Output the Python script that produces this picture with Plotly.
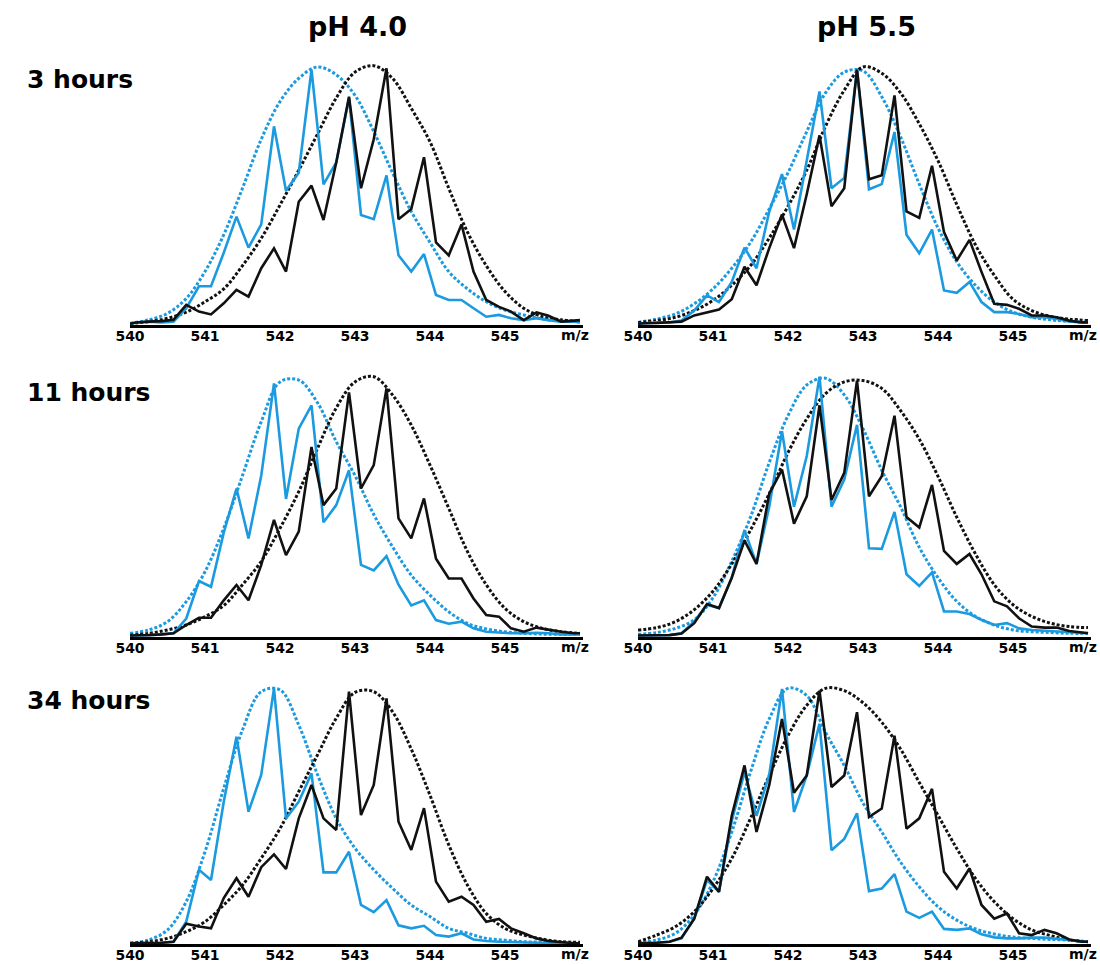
import plotly.graph_objects as go

# ---------------- data (relative intensity, % of panel maximum) ----------------
MZ = [540.0, 540.08, 540.25, 540.42, 540.58, 540.75, 540.92, 541.08, 541.25, 541.42,
      541.58, 541.75, 541.92, 542.08, 542.25, 542.42, 542.58, 542.75, 542.92, 543.08,
      543.25, 543.42, 543.58, 543.75, 543.92, 544.08, 544.25, 544.42, 544.58, 544.75,
      544.92, 545.08, 545.25, 545.42, 545.58, 545.75, 545.92, 546.0]
MZ_FIT = [540.0, 540.25, 540.5, 540.75, 541.0, 541.25, 541.5, 541.75, 542.0, 542.25,
          542.5, 542.75, 543.0, 543.25, 543.5, 543.75, 544.0, 544.25, 544.5, 544.75,
          545.0, 545.25, 545.5, 545.75, 546.0]

# pH 4.0, 3 hours
PH40_3H_BLUE = [0.5, 1, 1.3, 1, 1.3, 6.5, 15, 15, 28, 42, 30, 39, 77, 52, 59, 99, 54.5, 63, 88,
                42.6, 41, 58, 27, 20.7, 27.5, 11.6, 9.7, 9.7, 6.5, 3.2, 3.9, 2.6, 1.9, 2.6,
                1.9, 1.3, 1.3, 1]
PH40_3H_BLACK = [0.5, 1, 1.3, 1.5, 2, 7.8, 5.2, 4.1, 8.4, 13.6, 11, 22, 29.7, 20.7, 47.8, 54,
                 40.7, 63, 88.5, 53, 72, 99.5, 41, 45, 65, 32, 27, 39, 20.7, 9.7, 7, 5.2, 1.9,
                 4.9, 3.6, 1.3, 1.7, 1.9]
PH40_3H_BLUE_FIT = [0.6, 2, 4.5, 10.3, 20.7, 35, 53, 72, 86.6, 95.6, 100, 97, 89, 75, 59, 44,
                    32, 20.7, 14, 9, 5.8, 3.9, 2.3, 1.5, 1.3]
PH40_3H_BLACK_FIT = [0.6, 1.3, 2.6, 5, 9, 14, 23, 33.6, 46.5, 60, 74, 88, 98, 100.5, 95.6, 84,
                     71, 53, 36, 23, 13, 6.5, 3.2, 2, 1.3]

# pH 5.5, 3 hours
PH55_3H_BLUE = [0.5, 0.7, 1, 1, 1.7, 5.6, 11.5, 8.9, 16.7, 30, 22, 44, 58.5, 37, 63.7, 90.5,
                53, 57, 99, 52.6, 54.6, 74.8, 35, 27.8, 37, 13.4, 12.5, 16.7, 8.9, 5, 5, 4.3,
                3, 3, 2.3, 1.4, 1, 1]
PH55_3H_BLACK = [0.5, 0.7, 0.8, 1, 1.3, 3.7, 5, 6, 10, 22.6, 15.4, 29.8, 42.8, 29.8, 50.7,
                 73.5, 46, 53, 99, 56.5, 58, 89, 44, 41.5, 61.7, 36, 25, 33, 20.6, 8.2, 7.8,
                 6.3, 3.7, 3.7, 3, 1.7, 1, 1]
PH55_3H_BLUE_FIT = [1, 2.3, 4.3, 8.2, 14, 22, 32, 45, 59, 75, 90, 98, 98.5, 88.5, 73, 54.6,
                    37.6, 24.5, 15.4, 8.9, 5, 3, 2, 1.4, 1]
PH55_3H_BLACK_FIT = [1, 1.7, 3, 5.6, 9.5, 15.4, 23, 33.7, 46, 60, 77, 91, 100, 97.6, 90, 78,
                     63.7, 46.7, 31, 19.3, 10, 5.6, 3.3, 2.3, 1.7]

# pH 4.0, 11 hours
PH40_11H_BLUE = [0.4, 0.4, 0.6, 0.9, 1.3, 7, 21.4, 19.2, 40, 57, 37.8, 62, 97.4, 53, 80, 89,
                 44, 50.6, 64, 27.6, 25.5, 31, 20, 12, 14, 6.4, 5, 5.8, 3.2, 1.9, 1.5, 1.3,
                 1.3, 1.5, 1.3, 0.9, 0.9, 0.9]
PH40_11H_BLACK = [0.4, 0.4, 0.6, 0.9, 1.3, 4.5, 7.3, 7.3, 14, 19.9, 14, 27.6, 44.9, 31.4,
                  40.4, 73, 50.6, 57, 94, 57, 66, 95.5, 45.5, 37.8, 53.2, 30, 22.4, 22.4,
                  14.7, 8.3, 7.7, 3.2, 1.9, 3.5, 2.6, 1.9, 1.3, 1.3]
PH40_11H_BLUE_FIT = [1.3, 2.6, 5.8, 13.5, 25, 41.7, 62, 82.7, 98, 98.7, 90, 75, 62, 47, 34.6,
                     23.7, 16, 9.6, 5.1, 3, 1.9, 1.3, 1, 0.9, 0.9]
PH40_11H_BLACK_FIT = [0.6, 1.3, 2.6, 4.5, 7.7, 12, 20, 29, 41.7, 55.8, 72.4, 88, 98, 100, 93,
                      81.4, 66, 49.4, 32.7, 20, 10.9, 5.8, 3.2, 1.9, 1.3]

# pH 5.5, 11 hours
PH55_11H_BLUE = [0.4, 0.4, 0.6, 0.6, 1.3, 5.8, 12.3, 11, 22.7, 41, 28, 50, 79, 50, 69.5, 100,
                 50, 60.4, 81.5, 34, 33.8, 48, 24, 19.5, 24.7, 9.7, 9.7, 8.7, 6.5, 4.5, 5.2,
                 3.2, 2.6, 2.3, 2.2, 1.9, 1.6, 1.3]
PH55_11H_BLACK = [0.4, 0.4, 0.6, 0.6, 1.2, 5.2, 12.6, 11, 22.7, 37, 28, 55, 64.3, 43.5, 54,
                  89, 52.6, 63, 98.5, 54, 61.7, 85, 46, 42, 58.4, 33, 28, 31.8, 24, 13.6,
                  11.7, 7.1, 3.9, 3.5, 3.5, 2.2, 1.6, 1.3]
PH55_11H_BLUE_FIT = [0.9, 1.6, 3.2, 6.5, 15, 29, 46, 67, 85, 96.8, 99.4, 93, 80, 64, 50, 34.4,
                     22.7, 13.6, 7.8, 4.5, 2.6, 1.9, 1.6, 1.3, 1.3]
PH55_11H_BLACK_FIT = [2.6, 3.5, 5.8, 10.4, 17.5, 28, 41, 55, 70.8, 83.8, 93.5, 98, 98.5, 95.5,
                      87, 76, 61.7, 46, 31.8, 20, 12.3, 7.8, 5.2, 3.9, 3.5]

# pH 4.0, 34 hours
PH40_34H_BLUE = [0.4, 0.4, 0.4, 0.6, 1, 8.8, 29, 25, 55.5, 80.8, 51.6, 66, 99.6, 49, 55.5,
                 66.5, 28, 28, 36, 15.3, 12.5, 17.2, 7.4, 6.2, 7.2, 3.6, 3, 4.3, 1.9, 1.3, 1,
                 0.8, 0.6, 0.6, 0.6, 0.4, 0.4, 0.4]
PH40_34H_BLACK = [0.4, 0.4, 0.4, 0.6, 1, 8, 6.9, 6.2, 18, 25.7, 18.5, 30, 35, 29.3, 49, 62,
                  49, 44.5, 98.3, 50.3, 62, 95.7, 47.7, 36.7, 53, 24.4, 16.6, 18.5, 15.3, 8.8,
                  9.9, 6.2, 4.3, 2.3, 1.3, 0.8, 0.4, 0.4]
PH40_34H_BLUE_FIT = [0.4, 1.7, 5.6, 16.6, 36, 60.7, 83.4, 98.3, 99, 85.3, 66, 49, 37.4, 29,
                     21.8, 15.3, 10.8, 6.2, 4.3, 2.3, 1.6, 1, 0.8, 0.6, 0.4]
PH40_34H_BLACK_FIT = [0.4, 1, 2.3, 4.9, 8.8, 15.3, 23, 33.5, 45, 59.4, 73.7, 88, 98, 98.3,
                      90.5, 76, 58, 38.7, 23, 12, 6.2, 3.6, 2, 1, 0.8]

# pH 5.5, 34 hours
PH55_34H_BLUE = [0.4, 0.4, 0.6, 1, 2.3, 10, 25, 20.4, 48, 67, 50, 66, 99.4, 51.5, 65.7, 85.8,
                 36.6, 41, 51, 20.7, 21.7, 27.3, 12.7, 10.3, 12.7, 6, 5.6, 6.2, 3.9, 2.7, 2.3,
                 2.3, 2.6, 2.6, 2.3, 1.7, 1, 1]
PH55_34H_BLACK = [0.4, 0.4, 0.6, 1, 2.6, 10, 26.3, 20.4, 50, 69.6, 43.7, 62, 87.7, 59, 65.7,
                  98.7, 61.2, 65.7, 90.3, 49.5, 52.8, 81.2, 45, 49, 60.5, 28.2, 21.7, 29.5,
                  15.3, 10, 12, 4.3, 3.6, 5.6, 4.3, 1.9, 1, 1]
PH55_34H_BLUE_FIT = [0.4, 1.7, 4.3, 11.4, 24.3, 43.7, 67, 87.7, 99.6, 96.8, 82.5, 69.6, 55,
                     43.7, 32, 22.4, 14.6, 9.4, 6, 4, 2.8, 2.3, 1.9, 1.6, 1]
PH55_34H_BLACK_FIT = [1, 3.6, 6.9, 12.7, 21.7, 33.4, 49, 65.7, 81.2, 93, 99.6, 98.7, 94, 86.4,
                      76, 63, 50.2, 37.3, 25.6, 16.6, 10, 5.6, 3.4, 1.7, 1]

COLUMN_TITLES = ["pH 4.0", "pH 5.5"]
ROW_TITLES = ["3 hours", "11 hours", "34 hours"]
TICK_VALUES = [540, 541, 542, 543, 544, 545]
TICK_LABELS = ["540", "541", "542", "543", "544", "545"]
AXIS_LABEL = "m/z"

PANELS = [
    (0, 0, PH40_3H_BLUE, PH40_3H_BLACK, PH40_3H_BLUE_FIT, PH40_3H_BLACK_FIT),
    (0, 1, PH55_3H_BLUE, PH55_3H_BLACK, PH55_3H_BLUE_FIT, PH55_3H_BLACK_FIT),
    (1, 0, PH40_11H_BLUE, PH40_11H_BLACK, PH40_11H_BLUE_FIT, PH40_11H_BLACK_FIT),
    (1, 1, PH55_11H_BLUE, PH55_11H_BLACK, PH55_11H_BLUE_FIT, PH55_11H_BLACK_FIT),
    (2, 0, PH40_34H_BLUE, PH40_34H_BLACK, PH40_34H_BLUE_FIT, PH40_34H_BLACK_FIT),
    (2, 1, PH55_34H_BLUE, PH55_34H_BLACK, PH55_34H_BLUE_FIT, PH55_34H_BLACK_FIT),
]

# ---------------- layout geometry ----------------
W, H = 1100, 965
BLUE = "#1b9ae0"
BLACK = "#111111"
FONT = "DejaVu Sans"
COL_PX = [(130, 583), (638, 1091)]
PX_PER_UNIT = 75.0
ROW_BASE = [325, 636.7, 944.3]
ROW_H100 = [258, 260, 257]
YMAX = 105

fig = go.Figure()
layout = dict(
    width=W, height=H, autosize=False, margin=dict(l=0, r=0, t=0, b=0, pad=0),
    paper_bgcolor="white", plot_bgcolor="white", showlegend=False,
    annotations=[],
)

for i, (r, c, blue, black, bfit, kfit) in enumerate(PANELS):
    n = i + 1
    xa = "x" if n == 1 else f"x{n}"
    ya = "y" if n == 1 else f"y{n}"
    x0, x1 = COL_PX[c]
    base = ROW_BASE[r]
    top = base - ROW_H100[r] * YMAX / 100.0
    layout["xaxis" if n == 1 else f"xaxis{n}"] = dict(
        domain=[x0 / W, x1 / W], range=[540, 540 + (x1 - x0) / PX_PER_UNIT],
        anchor=ya, showgrid=False, zeroline=False, showline=True, automargin=False,
        linecolor="black", linewidth=3, ticks="", ticklabelstandoff=-4,
        tickvals=TICK_VALUES, ticktext=TICK_LABELS,
        tickfont=dict(family=FONT, size=14, color="black", weight="bold"),
        fixedrange=True,
    )
    layout["yaxis" if n == 1 else f"yaxis{n}"] = dict(
        domain=[1 - base / H, 1 - top / H], range=[0, YMAX], anchor=xa,
        visible=False, fixedrange=True, automargin=False,
    )
    dot = dict(width=3, dash="3px,2px", shape="spline", smoothing=1.0)
    fig.add_trace(go.Scatter(x=MZ_FIT, y=bfit, mode="lines", xaxis=xa, yaxis=ya,
                             line=dict(color=BLUE, **dot), hoverinfo="skip"))
    fig.add_trace(go.Scatter(x=MZ_FIT, y=kfit, mode="lines", xaxis=xa, yaxis=ya,
                             line=dict(color=BLACK, **dot), hoverinfo="skip"))
    fig.add_trace(go.Scatter(x=MZ, y=blue, mode="lines", xaxis=xa, yaxis=ya,
                             line=dict(color=BLUE, width=2.6), hoverinfo="skip"))
    fig.add_trace(go.Scatter(x=MZ, y=black, mode="lines", xaxis=xa, yaxis=ya,
                             line=dict(color=BLACK, width=2.6), hoverinfo="skip"))
    layout["annotations"].append(dict(
        text=AXIS_LABEL, xref=xa, x=545.93, yref="paper", y=1 - (base + 10) / H,
        showarrow=False, xanchor="center", yanchor="middle",
        font=dict(family=FONT, size=14, color="black", weight="bold"),
    ))

for c, t in enumerate(COLUMN_TITLES):
    cx = [357, 866][c]
    layout["annotations"].append(dict(
        text=t, xref="paper", yref="paper", x=cx / W, y=1 - 27 / H,
        showarrow=False, xanchor="center", yanchor="middle",
        font=dict(family=FONT, size=27, color="black", weight="bold"),
    ))

for r, t in enumerate(ROW_TITLES):
    cy = [80, 392, 700][r]
    layout["annotations"].append(dict(
        text=t, xref="paper", yref="paper", x=25 / W, y=1 - cy / H,
        showarrow=False, xanchor="left", yanchor="middle",
        font=dict(family=FONT, size=25, color="black", weight="bold"),
    ))

fig.update_layout(**layout)
fig.write_html(
    "out.html",
    config={"responsive": False, "displayModeBar": False},
    post_script="document.documentElement.style.overflow='hidden';"
                "document.body.style.margin='0';document.body.style.overflow='hidden';",
)
